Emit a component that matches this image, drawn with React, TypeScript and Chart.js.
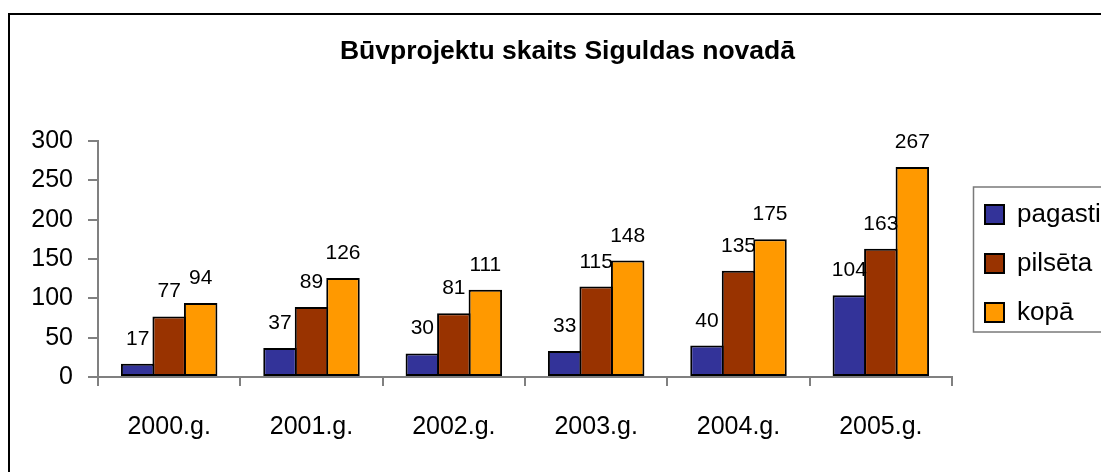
import React, { useEffect, useRef } from "react";
import { Chart, registerables } from "chart.js";

Chart.register(...registerables);

const titleText = "Būvprojektu skaits Siguldas novadā";
const categories = ["2000.g.", "2001.g.", "2002.g.", "2003.g.", "2004.g.", "2005.g."];
const seriesNames = ["pagasti", "pilsēta", "kopā"];
const pagasti = [17, 37, 30, 33, 40, 104];
const pilseta = [77, 89, 81, 115, 135, 163];
const kopa = [94, 126, 111, 148, 175, 267];
const seriesColors = ["#333399", "#993300", "#FF9900"];
const yMin = 0;
const yMax = 300;
const yStep = 50;

const FONT = "'Liberation Sans', Arial, sans-serif";
const W = 1119;
const H = 480;

export default function App() {
  const ref = useRef<HTMLCanvasElement>(null);

  useEffect(() => {
    if (!ref.current) return;

    const background = {
      id: "background",
      beforeDraw(chart: any) {
        const ctx = chart.ctx;
        ctx.save();
        ctx.fillStyle = "#ffffff";
        ctx.fillRect(0, 0, chart.width, chart.height);
        ctx.restore();
      },
      afterDraw(chart: any) {
        const ctx = chart.ctx;
        ctx.save();
        ctx.strokeStyle = "#000000";
        ctx.lineWidth = 2;
        ctx.strokeRect(1, 6, chart.width + 40, chart.height + 40);
        const lg = chart.legend;
        if (lg && lg.columnSizes && lg.columnSizes.length) {
          const pad = lg.options.labels.padding;
          const colH = lg.columnSizes[0].height;
          const y0 = (lg.top + pad + lg.bottom - colH) / 2;
          ctx.strokeStyle = "#7a7a7a";
          ctx.lineWidth = 1.5;
          ctx.strokeRect(lg.left + 11.5, y0 - 14.5, 300, 145);
        }
        ctx.restore();
      },
    };

    const layoutAdjust = {
      id: "layoutAdjust",
      afterLayout(chart: any) {
        const lg = chart.legend;
        if (lg) {
          const newLeft = chart.chartArea.right + 10;
          lg.left = newLeft;
          lg.width = 250;
          lg.right = newLeft + 250;
          lg.top += 4.5;
          lg.bottom += 4.5;
        }
        const tb = chart.titleBlock;
        if (tb) {
          tb.left += 37.5;
          tb.right += 37.5;
        }
      },
    };

    const dataLabels = {
      id: "dataLabels",
      afterDatasetsDraw(chart: any) {
        const ctx = chart.ctx;
        ctx.save();
        ctx.font = `21px ${FONT}`;
        ctx.fillStyle = "#000";
        ctx.textAlign = "center";
        ctx.textBaseline = "alphabetic";
        chart.data.datasets.forEach((ds: any, i: number) => {
          const meta = chart.getDatasetMeta(i);
          meta.data.forEach((bar: any, j: number) => {
            ctx.fillText(String(ds.data[j]), bar.x, bar.y - 19);
          });
        });
        ctx.restore();
      },
    };

    const chart = new Chart(ref.current, {
      type: "bar",
      data: {
        labels: categories,
        datasets: [pagasti, pilseta, kopa].map((d, i) => ({
          label: seriesNames[i],
          data: d,
          backgroundColor: seriesColors[i],
          borderColor: "#000000",
          borderWidth: 2,
          borderSkipped: false,
          categoryPercentage: 0.664,
          barPercentage: 1.063,
        })),
      },
      options: {
        responsive: false,
        animation: false,
        layout: { padding: { left: 0, top: 0, right: 75, bottom: 21 } },
        plugins: {
          tooltip: { enabled: false },
          title: {
            display: true,
            text: titleText,
            color: "#000",
            font: { family: FONT, size: 26.5, weight: "bold" },
            padding: { top: 27.4, bottom: 73.8 },
          },
          legend: {
            display: true,
            position: "right",
            fullSize: false,
            maxWidth: 100,
            labels: {
              color: "#000",
              font: { family: FONT, size: 26 },
              boxWidth: 19,
              boxHeight: 19,
              padding: 23,
            },
          },
        },
        scales: {
          x: {
            type: "category",
            offset: true,
            clip: false,
            grid: {
              display: true,
              offset: true,
              drawOnChartArea: false,
              drawTicks: true,
              tickLength: 9,
              color: "#808080",
              lineWidth: 2,
            },
            border: { display: true, color: "#808080", width: 2 },
            ticks: {
              color: "#000",
              font: { family: FONT, size: 25 },
              padding: 26,
              maxRotation: 0,
              autoSkip: false,
            },
            afterFit(scale: any) {
              scale.height = 90;
            },
          },
          y: {
            min: yMin,
            max: yMax,
            grid: {
              display: true,
              drawOnChartArea: false,
              drawTicks: true,
              tickLength: 10,
              color: "#808080",
              lineWidth: 2,
            },
            border: { display: true, color: "#808080", width: 2 },
            ticks: {
              stepSize: yStep,
              color: "#000",
              font: { family: FONT, size: 25 },
              padding: 15,
            },
            afterFit(scale: any) {
              scale.width = 90;
            },
          },
        },
      },
      plugins: [background, layoutAdjust, dataLabels],
    });

    return () => chart.destroy();
  }, []);

  return (
    <div
      style={{
        position: "fixed",
        left: 8,
        top: 8,
        width: 1093,
        height: 464,
        overflow: "hidden",
        background: "#fff",
      }}
    >
      <canvas ref={ref} width={W} height={H} style={{ width: W, height: H, display: "block" }} />
    </div>
  );
}
